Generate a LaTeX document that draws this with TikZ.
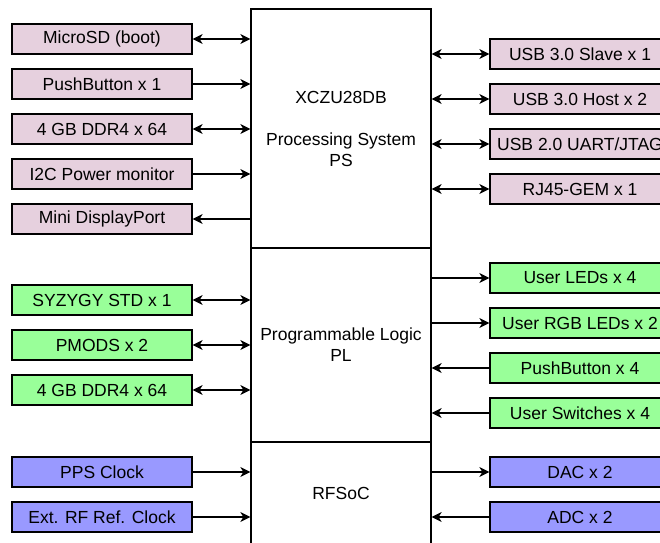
\documentclass[tikz,border=0pt]{standalone}
\usepackage{fontspec}
\setmainfont{Liberation Sans}
\usetikzlibrary{arrows.meta}
\definecolor{pspink}{HTML}{E6D0DE}
\definecolor{plgreen}{HTML}{99FF99}
\definecolor{rfblue}{HTML}{9999FF}
\tikzset{
 txt/.style={font=\fontsize{17.5}{21}\selectfont},
 block/.style={txt,draw,line width=1.3pt,minimum width=180pt,align=center,inner sep=0pt},
 port/.style={txt,draw,line width=1.3pt,minimum width=180pt,minimum height=30pt,inner sep=0pt},
 link/.style={line width=1.2pt},
 duplex/.style={<->},
 tobox/.style={->},
 frombox/.style={<-}
}
\begin{document}
\begin{tikzpicture}[x=1pt,y=-1pt,>={Stealth[length=10pt,width=10pt,inset=3pt]}]
 \useasboundingbox (0,0) rectangle (660,542);
 % the three blocks of the chip
 \node[block,minimum height=239pt] (ps) at (341,128.5) {XCZU28DB\\[21pt]Processing System\\PS};
 \node[block,minimum height=194pt] (pl) at (341,345) {Programmable Logic\\PL};
 \node[block,minimum height=102pt] (rf) at (341,493) {RFSoC};
 % processing system ports
 \foreach \nm/\yy/\kind/\lbl in {sd/39/duplex/MicroSD (boot),pbone/84/frombox/PushButton x 1,
    psddr/129/duplex/4 GB DDR4 x 64,pwr/174/frombox/I2C Power monitor,dp/219/tobox/Mini DisplayPort}
 {
    \node[port,fill=pspink] (\nm) at (102,\yy) {\lbl};
    \draw[link,\kind] (\nm.east -| ps.west) -- (\nm.east);
 }
 \foreach \nm/\yy/\kind/\lbl in {usbslave/54/duplex/USB 3.0 Slave x 1,usbhost/99/duplex/USB 3.0 Host x 2,
    uart/144/duplex/{USB 2.0 UART/JTAG},gem/189/duplex/RJ45-GEM x 1}
 {
    \node[port,fill=pspink] (\nm) at (580,\yy) {\lbl};
    \draw[link,\kind] (\nm.west -| ps.east) -- (\nm.west);
 }
 % programmable logic ports
 \foreach \nm/\yy/\kind/\lbl in {syzygy/300/duplex/SYZYGY STD x 1,pmod/345/duplex/PMODS x 2,
    plddr/390/duplex/4 GB DDR4 x 64}
 {
    \node[port,fill=plgreen] (\nm) at (102,\yy) {\lbl};
    \draw[link,\kind] (\nm.east -| pl.west) -- (\nm.east);
 }
 \foreach \nm/\yy/\kind/\lbl in {led/278/tobox/User LEDs x 4,rgb/323/tobox/User RGB LEDs x 2,
    pbfour/368/frombox/PushButton x 4,sw/413/frombox/User Switches x 4}
 {
    \node[port,fill=plgreen] (\nm) at (580,\yy) {\lbl};
    \draw[link,\kind] (\nm.west -| pl.east) -- (\nm.west);
 }
 % rf ports
 \foreach \nm/\yy/\kind/\lbl in {pps/472/frombox/PPS Clock,refclk/517/frombox/Ext. RF Ref. Clock}
 {
    \node[port,fill=rfblue] (\nm) at (102,\yy) {\lbl};
    \draw[link,\kind] (\nm.east -| rf.west) -- (\nm.east);
 }
 \foreach \nm/\yy/\kind/\lbl in {dac/472/tobox/DAC x 2,adc/517/frombox/ADC x 2}
 {
    \node[port,fill=rfblue] (\nm) at (580,\yy) {\lbl};
    \draw[link,\kind] (\nm.west -| rf.east) -- (\nm.west);
 }
\end{tikzpicture}
\end{document}
